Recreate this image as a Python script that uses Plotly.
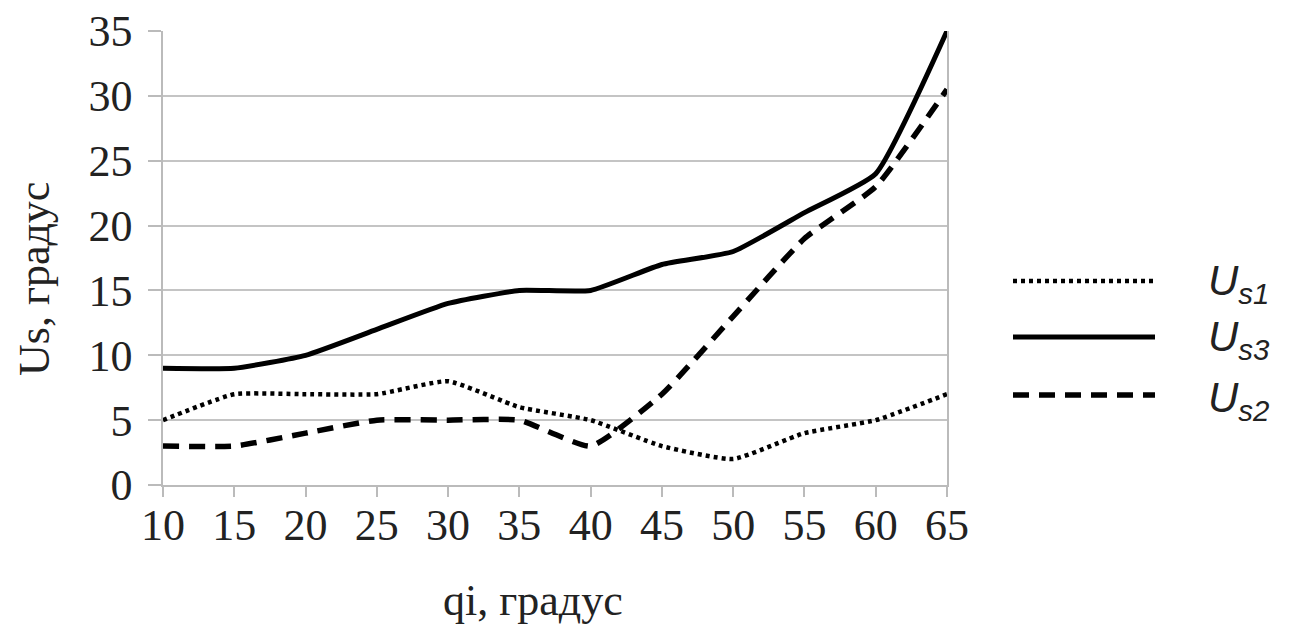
import plotly.graph_objects as go

qi = [10, 15, 20, 25, 30, 35, 40, 45, 50, 55, 60, 65]
us1 = [5, 7, 7, 7, 8, 6, 5, 3, 2, 4, 5, 7]
us3 = [9, 9, 10, 12, 14, 15, 15, 17, 18, 21, 24, 35]
us2 = [3, 3, 4, 5, 5, 5, 3, 7, 13, 19, 23, 30.5]
y_ticks = [0, 5, 10, 15, 20, 25, 30, 35]

legend_items = [
    ("U<sub>s1</sub>", "4px,4px", 4.5),
    ("U<sub>s3</sub>", "solid", 5),
    ("U<sub>s2</sub>", "16px,10px", 5.5),
]

# page offset (browser body margin)
OFF = 8
W, H = 1289, 632
L, R, T, B = 163 - OFF, 947 - OFF, 31 - OFF, 485 - OFF


def px(x):
    return (x - OFF - L) / (R - L)


def py(y):
    return (B - (y - OFF)) / (B - T)


fig = go.Figure()
fig.add_trace(go.Scatter(x=qi, y=us1, mode="lines",
                         line=dict(color="black", width=4.5, dash="4px,4px",
                                   shape="spline", smoothing=0.45)))
fig.add_trace(go.Scatter(x=qi, y=us3, mode="lines",
                         line=dict(color="black", width=5, shape="spline", smoothing=0.45)))
fig.add_trace(go.Scatter(x=qi, y=us2, mode="lines",
                         line=dict(color="black", width=5.5, dash="16px,10px",
                                   shape="spline", smoothing=0.45)))

serif = "Liberation Serif, Times New Roman, serif"

fig.update_layout(
    width=W, height=H,
    margin=dict(l=L, r=W - R, t=T, b=H - B, autoexpand=False),
    paper_bgcolor="white", plot_bgcolor="white",
    showlegend=False,
    font=dict(family=serif, size=44, color="#222"),
)
fig.update_xaxes(
    range=[10, 65], tickvals=qi, ticks="outside", ticklen=10, tickwidth=1.5,
    tickcolor="#bbbbbb", showgrid=False, showline=True, linecolor="#bbbbbb",
    linewidth=1.5, mirror=False, zeroline=False, automargin=False,
    ticklabelstandoff=-10, ticklabeloverflow="allow",
    tickfont=dict(family=serif, size=44, color="#222"),
)
fig.update_yaxes(
    range=[0, 35], tickvals=y_ticks, ticks="outside", ticklen=13, tickwidth=1.5,
    tickcolor="#bbbbbb", showgrid=True, gridcolor="#c4c4c4", gridwidth=1.5,
    showline=True, linecolor="#bbbbbb", linewidth=1.5, mirror=True, zeroline=False,
    ticklabelstandoff=7, automargin=False, ticklabeloverflow="allow",
    tickfont=dict(family=serif, size=44, color="#222"),
)

# axis titles
fig.add_annotation(text="qi, градус", xref="paper", yref="paper",
                   x=px(533), y=py(600), showarrow=False,
                   xanchor="center", yanchor="middle",
                   font=dict(family=serif, size=44, color="#222"))
fig.add_annotation(text="Us, градус", xref="paper", yref="paper",
                   x=px(34), y=py(279), showarrow=False,
                   textangle=-90, xanchor="center", yanchor="middle",
                   font=dict(family=serif, size=44, color="#222"))

# custom legend
leg_y = [281, 337, 395]
lab_y = [283, 339, 400]
for (label, dash, w), yl, yt in zip(legend_items, leg_y, lab_y):
    fig.add_shape(type="line", xref="paper", yref="paper",
                  x0=px(1013), x1=px(1155), y0=py(yl), y1=py(yl),
                  line=dict(color="black", width=w, dash=dash))
    fig.add_annotation(text="<i>" + label + "</i>", xref="paper", yref="paper",
                       x=px(1206), y=py(yt), showarrow=False,
                       xanchor="left", yanchor="middle",
                       font=dict(family="Liberation Sans, Arial, sans-serif", size=42, color="#222"))

fig.write_html("out.html")
